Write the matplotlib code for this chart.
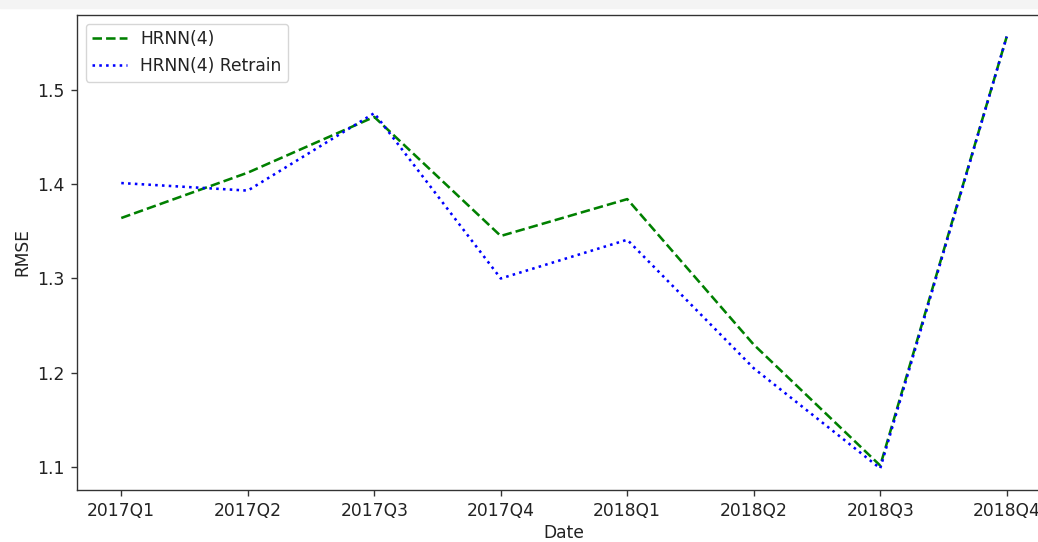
import matplotlib
matplotlib.use("Agg")
import matplotlib.pyplot as plt
from matplotlib.patches import Rectangle

quarters = ["2017Q1", "2017Q2", "2017Q3", "2017Q4",
            "2018Q1", "2018Q2", "2018Q3", "2018Q4"]
hrnn = [1.364, 1.412, 1.471, 1.345, 1.384, 1.230, 1.102, 1.556]
hrnn_retrain = [1.401, 1.393, 1.475, 1.300, 1.341, 1.205, 1.099, 1.556]

scale = 1.23
plt.rcParams["font.size"] = 10 * scale
plt.rcParams["text.color"] = "#222222"
plt.rcParams["xtick.labelcolor"] = "#222222"
plt.rcParams["ytick.labelcolor"] = "#222222"
plt.rcParams["axes.labelcolor"] = "#222222"

fig = plt.figure(figsize=(10.38, 5.42), dpi=100)
# axes runs off the right edge, like the cropped reference
ax = fig.add_axes([77 / 1038, 52 / 542, 974 / 1038, 475 / 542])

x = range(len(quarters))
ax.plot(x, hrnn, "g--", label="HRNN(4)", linewidth=1.5 * scale)
ax.plot(x, hrnn_retrain, "b:", label="HRNN(4) Retrain", linewidth=1.5 * scale)

ax.set_xticks(list(x))
ax.set_xticklabels(quarters)
ax.set_yticks([1.1, 1.2, 1.3, 1.4, 1.5])
ax.set_xlabel("Date", labelpad=3)
ax.set_ylabel("RMSE")
ax.legend(loc="upper left")

for spine in ax.spines.values():
    spine.set_linewidth(0.8 * scale)
    spine.set_edgecolor("#333333")
ax.tick_params(width=0.8 * scale, length=3.5 * scale, pad=4.5, color="#333333")

# light grey strip at the very top of the screenshot
fig.patches.append(Rectangle((0, 1 - 8 / 542), 1, 8 / 542,
                             transform=fig.transFigure,
                             color="#f4f4f4", zorder=0))

fig.savefig("out.png", dpi=100)
